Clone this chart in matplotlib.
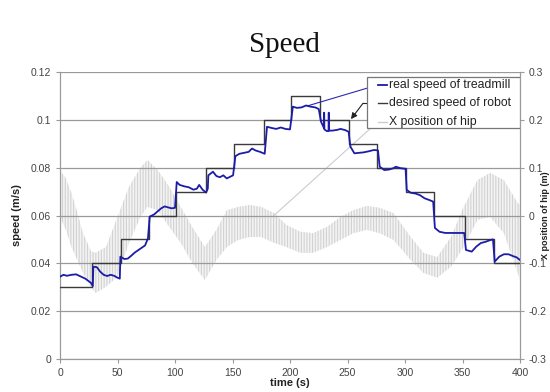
import matplotlib
matplotlib.use("Agg")
import matplotlib.pyplot as plt
from matplotlib.patches import Rectangle
from matplotlib.lines import Line2D

# ---- data ----
desired_t = [0, 28, 53, 77, 101, 127, 151, 177, 201, 226, 251, 276, 301, 325, 352, 377, 400]
desired_v = [0.03, 0.04, 0.05, 0.06, 0.07, 0.08, 0.09, 0.10, 0.11, 0.10, 0.09, 0.08, 0.07,
             0.06, 0.05, 0.04, 0.04]

real_t = [0, 3, 6, 10, 14, 18, 22, 25, 27, 28.5, 29, 32, 35, 38, 41, 44, 47, 50, 52,
          52.5, 56, 59, 62, 65, 68, 71, 74, 76.5, 78, 82, 85, 88, 91, 94, 97, 100,
          101.5, 104, 108, 112, 116, 119, 121, 124, 127, 128.5, 129, 133, 136, 139,
          142, 145, 148, 150.5, 152.5, 156, 160, 164, 167, 170, 174, 178, 180, 184,
          188, 192, 196, 200, 202.5, 206, 210, 214, 218, 222, 225, 227, 229.5, 229.7,
          229.9, 232, 233.5, 233.7, 233.9, 237, 241, 244, 248, 251, 252.5, 256, 260,
          264, 268, 273, 276.5, 278, 282, 286, 290, 292, 296, 300.5, 301.5, 305, 309,
          313, 317, 321, 324.5, 326, 330, 335, 340, 346, 351.5, 353, 358, 362, 366,
          370, 374, 376.5, 378, 382, 386, 390, 394, 397, 400]
real_v = [0.0344, 0.0352, 0.0348, 0.0352, 0.0354, 0.0345, 0.0336, 0.0325, 0.0318, 0.0305,
          0.0386, 0.0384, 0.0365, 0.0352, 0.0347, 0.0352, 0.0348, 0.0340, 0.0336,
          0.0428, 0.0418, 0.0420, 0.0432, 0.0445, 0.0455, 0.0465, 0.0475, 0.0505,
          0.0595, 0.0605, 0.0618, 0.0630, 0.0638, 0.0634, 0.0630, 0.0632,
          0.0740, 0.0728, 0.0722, 0.0718, 0.0708, 0.0712, 0.0728, 0.0708, 0.0696,
          0.0712, 0.0768, 0.0783, 0.0765, 0.0760, 0.0768, 0.0755, 0.0762, 0.0768,
          0.0848, 0.0858, 0.0862, 0.0866, 0.0880, 0.0872, 0.0866, 0.0858,
          0.0971, 0.0966, 0.0962, 0.0968, 0.0962, 0.0960,
          0.1055, 0.1050, 0.1052, 0.1060, 0.1055, 0.1052, 0.1045, 0.0992, 0.0966, 0.1030,
          0.0960, 0.0953, 0.0953, 0.1030, 0.0955, 0.0955, 0.0958, 0.0962, 0.0957, 0.0950,
          0.0888, 0.0860, 0.0862, 0.0864, 0.0868, 0.0874, 0.0872,
          0.0804, 0.0790, 0.0792, 0.0798, 0.0804, 0.0798, 0.0795,
          0.0707, 0.0695, 0.0692, 0.0685, 0.0672, 0.0665, 0.0658,
          0.0548, 0.0532, 0.0527, 0.0527, 0.0527, 0.0527,
          0.0456, 0.0449, 0.0470, 0.0485, 0.0490, 0.0497, 0.0500,
          0.0407, 0.0428, 0.0438, 0.0438, 0.0430, 0.0425, 0.0414]

hip_t = [0, 5, 10, 15, 20, 27, 31, 40, 50, 60, 70, 76, 85, 95, 105, 115, 126, 136, 145,
         155, 165, 175, 186, 197, 209, 220, 232, 244, 255, 267, 278, 290, 305, 316, 328,
         340, 351, 363, 374, 386, 398, 400]
hip_hi = [0.095, 0.078, 0.047, 0.007, -0.037, -0.075, -0.078, -0.066, -0.003, 0.060, 0.100,
          0.116, 0.095, 0.060, 0.018, -0.024, -0.066, -0.030, 0.011, 0.018, 0.022, 0.018,
          0.005, -0.020, -0.034, -0.037, -0.024, -0.003, 0.011, 0.020, 0.016, 0.005,
          -0.045, -0.078, -0.087, -0.045, 0.018, 0.074, 0.089, 0.074, 0.026, 0.022]
hip_lo = [-0.003, -0.030, -0.066, -0.093, -0.120, -0.150, -0.162, -0.149, -0.128, -0.057,
          -0.003, 0.018, 0.011, -0.024, -0.057, -0.099, -0.135, -0.093, -0.066, -0.051,
          -0.045, -0.045, -0.057, -0.066, -0.078, -0.078, -0.066, -0.051, -0.037, -0.030,
          -0.037, -0.051, -0.093, -0.120, -0.130, -0.107, -0.066, -0.009, -0.003, -0.037,
          -0.120, -0.135]

series_names = ['real speed of treadmill', 'desired speed of robot', 'X position of hip']
x_ticks = [0, 50, 100, 150, 200, 250, 300, 350, 400]
left_ticks = [0, 0.02, 0.04, 0.06, 0.08, 0.1, 0.12]
left_labels = ["0", "0.02", "0.04", "0.06", "0.08", "0.1", "0.12"]
right_ticks = [-0.3, -0.2, -0.1, 0, 0.1, 0.2, 0.3]
right_labels = ["-0.3", "-0.2", "-0.1", "0", "0.1", "0.2", "0.3"]

# ---- figure ----
plt.rcParams['font.family'] = ['Liberation Sans', 'DejaVu Sans']
plt.rcParams['hatch.linewidth'] = 0.8
fig = plt.figure(figsize=(5.5, 3.92), dpi=100)
ax = fig.add_axes([60 / 550, 33 / 392, 460 / 550, 287 / 392])
ax2 = ax.twinx()
ax.set_zorder(ax2.get_zorder() + 1)
ax.patch.set_visible(False)

gc = '#9a9a9a'
tc = '#444444'
c_real = '#1c1ca8'
c_des = '#3a3a3a'
c_hip = '#cdcdcd'

# hip position (right axis)
ax2.fill_between(hip_t, hip_lo, hip_hi, facecolor='none', edgecolor=c_hip,
                 hatch='||||||', linewidth=0)
ax2.fill_between(hip_t, hip_lo, hip_hi, facecolor='#dddddd', alpha=0.35, linewidth=0)
ax2.set_ylim(-0.3, 0.3)
ax2.set_yticks(right_ticks)
ax2.set_yticklabels(right_labels)

# speed (left axis)
ax.step(desired_t, desired_v, where='post', color=c_des, lw=1.0, zorder=3)
ax.plot(real_t, real_v, color=c_real, lw=1.3, zorder=4)

ax.set_xlim(0, 400)
ax.set_ylim(0, 0.12)
ax.set_xticks(x_ticks)
ax.set_yticks(left_ticks)
ax.set_yticklabels(left_labels)
ax.yaxis.grid(True, color=gc, lw=0.9)
ax.set_axisbelow(True)

for a in (ax, ax2):
    for s in a.spines.values():
        s.set_color(gc)
    a.spines['top'].set_visible(False)
    a.tick_params(colors=gc, labelcolor=tc, labelsize=7.5, length=3, width=0.8)

ax.set_xlabel('time (s)', fontsize=8, fontweight='bold', color='#222222', labelpad=0)
ax.set_ylabel('speed (m/s)', fontsize=8, fontweight='bold', color='#222222', labelpad=6)
fig.text(545.5 / 550, 0.5 - (215 - 196) / 392, 'X position of hip (m)', rotation=90,
         fontsize=6.5, fontweight='bold', color='#222222', ha='center', va='center')

# legend (Excel-style box)
tr = ax.transAxes
box_l, box_r, box_b, box_t = 0.667, 0.999, 0.805, 0.983
ax.add_patch(Rectangle((box_l, box_b), box_r - box_l, box_t - box_b, transform=tr,
                       facecolor='white', edgecolor='#777777', lw=0.9, zorder=6))
row_y = [0.955, 0.891, 0.827]
hx0, hx1, tx = (378 - 60) / 460, (387 - 60) / 460, (389 - 60) / 460
for name, col, lw, yy in zip(series_names, [c_real, c_des, c_hip], [1.3, 1.0, 1.0], row_y):
    ax.add_line(Line2D([hx0, hx1], [yy, yy], transform=tr, color=col, lw=lw, zorder=7))
    ax.text(tx, yy, name, transform=tr, fontsize=8.8, color='#222222', ha='left',
            va='center', zorder=7)

# leader lines
ax.annotate('', xy=(215, 0.1058), xycoords='data', xytext=(hx0, row_y[0]),
            textcoords='axes fraction',
            arrowprops=dict(arrowstyle='-', color='#2a2ab0', lw=0.8, shrinkA=0, shrinkB=0))
ax.plot([(hx0 * 400), 263.5], [row_y[1] * 0.12, row_y[1] * 0.12], color='#222222', lw=0.8,
        zorder=5)
ax.annotate('', xy=(253, 0.1003), xycoords='data', xytext=(263.5, row_y[1] * 0.12),
            textcoords='data',
            arrowprops=dict(arrowstyle='-|>', color='#222222', lw=0.8,
                            mutation_scale=9, shrinkA=0, shrinkB=0))
ax2.annotate('', xy=(186, 0.0), xycoords='data', xytext=(hx0, row_y[2]),
             textcoords='axes fraction',
             arrowprops=dict(arrowstyle='-', color='#cccccc', lw=0.8, shrinkA=0, shrinkB=0))

fig.text(0.517, 0.885, 'Speed', family='Liberation Serif', fontsize=21,
         ha='center', va='center', color='#111111')

fig.savefig('out.png', dpi=100)
